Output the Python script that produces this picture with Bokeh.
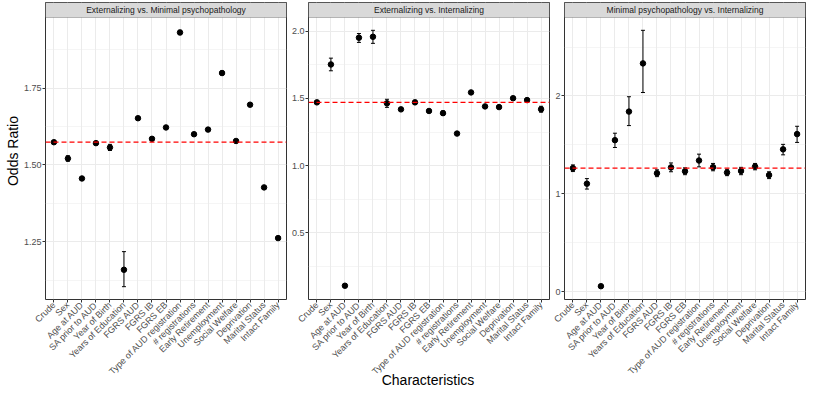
from bokeh.plotting import figure
from bokeh.models import (ColumnDataSource, Range1d, FixedTicker, Whisker, TeeHead,
                          Span, BoxAnnotation, Label, Div)
from bokeh.layouts import row, column
from bokeh.embed import file_html
from bokeh.resources import INLINE

# ---------------- data ----------------
categories = ["Crude", "Sex", "Age at AUD", "SA prior to AUD", "Year of Birth",
              "Years of Education", "FGRS AUD", "FGRS IB", "FGRS EB",
              "Type of AUD registration", "# registrations", "Early Retirement",
              "Unemployment", "Social Welfare", "Deprivation", "Marital Status",
              "Intact Family"]

panel_titles = ["Externalizing vs. Minimal psychopathology",
                "Externalizing vs. Internalizing",
                "Minimal psychopathology vs. Internalizing"]

or_ext_min = [1.574, 1.521, 1.456, 1.571, 1.557, 1.159, 1.652, 1.585, 1.622,
              1.931, 1.600, 1.615, 1.799, 1.578, 1.696, 1.427, 1.262]
lo_ext_min = [1.570, 1.512, 1.452, 1.568, 1.547, 1.104, 1.648, 1.581, 1.618,
              1.924, 1.596, 1.609, 1.793, 1.575, 1.692, 1.424, 1.257]
hi_ext_min = [1.578, 1.530, 1.460, 1.574, 1.567, 1.218, 1.656, 1.589, 1.626,
              1.938, 1.604, 1.621, 1.805, 1.581, 1.700, 1.430, 1.267]

or_ext_int = [1.471, 1.753, 0.107, 1.952, 1.959, 1.464, 1.419, 1.471, 1.407,
              1.391, 1.239, 1.545, 1.441, 1.436, 1.502, 1.488, 1.420]
lo_ext_int = [1.462, 1.706, 0.100, 1.917, 1.910, 1.434, 1.411, 1.456, 1.400,
              1.375, 1.232, 1.537, 1.433, 1.427, 1.495, 1.476, 1.398]
hi_ext_int = [1.480, 1.800, 0.114, 1.983, 2.007, 1.494, 1.427, 1.486, 1.414,
              1.407, 1.246, 1.553, 1.449, 1.445, 1.509, 1.500, 1.442]

or_min_int = [1.262, 1.103, 0.055, 1.548, 1.840, 2.333, 1.210, 1.269, 1.230,
              1.340, 1.272, 1.217, 1.233, 1.278, 1.191, 1.454, 1.610]
lo_min_int = [1.227, 1.048, 0.050, 1.473, 1.697, 2.035, 1.175, 1.225, 1.195,
              1.275, 1.235, 1.185, 1.195, 1.245, 1.155, 1.398, 1.525]
hi_min_int = [1.295, 1.155, 0.060, 1.619, 1.992, 2.671, 1.245, 1.315, 1.265,
              1.405, 1.310, 1.250, 1.270, 1.310, 1.225, 1.505, 1.690]

y_major_ticks = [[1.25, 1.5, 1.75], [0.5, 1.0, 1.5, 2.0], [0, 1, 2]]
y_minor_ticks = [[1.125, 1.375, 1.625, 1.875], [0.25, 0.75, 1.25, 1.75], [0.5, 1.5, 2.5]]
y_tick_labels = [["1.25", "1.50", "1.75"], ["0.5", "1.0", "1.5", "2.0"], ["0", "1", "2"]]

x_title = "Characteristics"
y_title = "Odds Ratio"

# ---------------- layout constants ----------------
FONT = "Liberation Sans"
TOTAL_H = 389
TOP = 2
BOTTOM = 90
STRIP = 15
FRAME_W = 241
BORDERS = [(45, 2), (20, 2), (13, 3)]
FRAME_H = TOTAL_H - TOP - BOTTOM
PANEL_H = FRAME_H - STRIP

panels = [(or_ext_min, lo_ext_min, hi_ext_min),
          (or_ext_int, lo_ext_int, hi_ext_int),
          (or_min_int, lo_min_int, hi_min_int)]

figs = []
for k, (ors, los, his) in enumerate(panels):
    n = len(categories)
    xs = list(range(1, n + 1))
    lo_all, hi_all = min(los), max(his)
    span = hi_all - lo_all
    ylo = lo_all - 0.05 * span
    yhi = hi_all + 0.05 * span
    strip_units = STRIP * (yhi - ylo) / PANEL_H
    L, R = BORDERS[k]
    p = figure(width=L + FRAME_W + R, height=TOTAL_H,
               x_range=Range1d(0.4, n + 0.6),
               y_range=Range1d(ylo, yhi + strip_units),
               output_backend="svg", toolbar_location=None,
               min_border_left=L, min_border_right=R,
               min_border_top=TOP, min_border_bottom=BOTTOM,
               background_fill_color="white", border_fill_color="white")
    p.outline_line_color = "#333333"
    p.outline_line_width = 1

    # grids
    xt = FixedTicker(ticks=xs)
    yt = FixedTicker(ticks=y_major_ticks[k], minor_ticks=y_minor_ticks[k])
    p.xaxis.ticker = xt
    p.yaxis.ticker = yt
    p.xgrid.ticker = xt
    p.ygrid.ticker = yt
    p.xgrid.grid_line_color = "#ebebeb"
    p.ygrid.grid_line_color = "#ebebeb"
    p.ygrid.minor_grid_line_color = "#ebebeb"
    p.ygrid.minor_grid_line_width = 0.5

    # axes
    for ax in (p.xaxis[0], p.yaxis[0]):
        ax.axis_line_color = None
        ax.major_tick_line_color = "#333333"
        ax.major_tick_out = 3
        ax.major_tick_in = 0
        ax.minor_tick_out = 0
        ax.minor_tick_in = 0
        ax.major_label_text_color = "#4d4d4d"
        ax.major_label_text_font = FONT
        ax.major_label_standoff = 1
        ax.axis_label_text_font = FONT
        ax.axis_label_text_font_style = "normal"
        ax.axis_label_text_font_size = "14px"
        ax.axis_label_text_color = "black"
        ax.axis_label_standoff = 0
    p.xaxis.major_label_text_font_size = "9px"
    p.yaxis.major_label_text_font_size = "9px"
    p.xaxis.major_label_orientation = 0.7853981634
    p.xaxis.major_label_overrides = {x: c for x, c in zip(xs, categories)}
    p.yaxis.major_label_overrides = {t: s for t, s in zip(y_major_ticks[k], y_tick_labels[k])}
    if k == 0:
        p.yaxis.axis_label = y_title

    src = ColumnDataSource(dict(x=xs, y=ors, lo=los, hi=his))
    p.scatter("x", "y", source=src, size=5.5, color="black")
    p.add_layout(Whisker(source=src, base="x", upper="hi", lower="lo",
                         line_color="black", line_width=1,
                         upper_head=TeeHead(size=4, line_color="black", line_width=1),
                         lower_head=TeeHead(size=4, line_color="black", line_width=1)))
    p.add_layout(Span(location=ors[0], dimension="width", line_color="#ff0000",
                      line_dash="5 3", line_width=1.3))

    # facet strip
    p.add_layout(BoxAnnotation(bottom=yhi, fill_color="#d9d9d9", fill_alpha=1.0,
                               line_color="#333333", line_width=1))
    p.add_layout(Label(x=(0.4 + n + 0.6) / 2, y=yhi + strip_units / 2,
                       text=panel_titles[k], text_align="center",
                       text_baseline="middle", text_font=FONT,
                       text_font_size="8.5px", text_color="#1a1a1a"))
    figs.append(p)

# x-axis title, centred under the middle panel
mid_center = BORDERS[0][0] + FRAME_W + BORDERS[0][1] + BORDERS[1][0] + FRAME_W / 2
title_div = Div(text=x_title, width=200, height=18,
                margin=(-18, 0, 0, int(round(mid_center - 100))),
                styles={"font-family": FONT, "font-size": "14px", "color": "black",
                        "text-align": "center", "line-height": "18px",
                        "width": "200px"})

layout = column(row(*figs), title_div)
open("out.html", "w").write(file_html(layout, INLINE))
